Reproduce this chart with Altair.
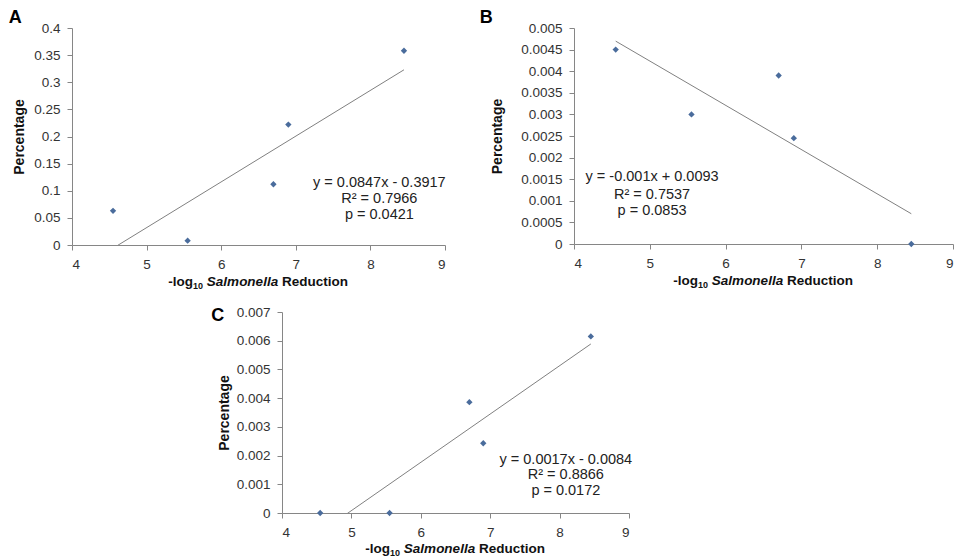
import altair as alt
import pandas as pd

# ---- data ----
x_vals = [4.55, 5.55, 6.70, 6.90, 8.45]
y_a = [0.063, 0.008, 0.112, 0.222, 0.358]
y_b = [0.0045, 0.0030, 0.0039, 0.00245, 0.0]
y_c = [0.0, 0.0, 0.00386, 0.00243, 0.00615]

x_ticks = [4, 5, 6, 7, 8, 9]
y_ticks_a = [0, 0.05, 0.1, 0.15, 0.2, 0.25, 0.3, 0.35, 0.4]
y_ticks_b = [0, 0.0005, 0.001, 0.0015, 0.002, 0.0025, 0.003, 0.0035, 0.004, 0.0045, 0.005]
y_ticks_c = [0, 0.001, 0.002, 0.003, 0.004, 0.005, 0.006, 0.007]

eq_a = ["y = 0.0847x - 0.3917", "R\u00b2 = 0.7966", "p = 0.0421"]
eq_b = ["y = -0.001x + 0.0093", "R\u00b2 = 0.7537", "p = 0.0853"]
eq_c = ["y = 0.0017x - 0.0084", "R\u00b2 = 0.8866", "p = 0.0172"]

# annotation anchors (data units)
eq_a_x = [8.12, 8.12, 8.12]
eq_a_y = [0.1143, 0.0848, 0.0553]
eq_b_x = [5.03, 5.03, 5.03]
eq_b_y = [0.00154, 0.00114, 0.00077]
eq_c_x = [8.09, 8.09, 8.09]
eq_c_y = [0.00186, 0.00132, 0.00078]

FONT = "Liberation Sans"
AXIS_GRAY = "#868686"
POINT_COLOR = "#4a6c9c"
LINE_COLOR = "#808080"


def panel(letter, ys, yticks, ymax, eq, eqx, eqy, width, height,
          title_pad, letter_dx, letter_dy, title_offset, xt_off):
    df = pd.DataFrame({"x": x_vals, "y": ys})
    xscale = alt.Scale(domain=[4, 9], nice=False)
    yscale = alt.Scale(domain=[0, ymax], nice=False)
    xaxis = alt.Axis(values=x_ticks, format="d", grid=False, title=None,
                     domainColor=AXIS_GRAY, tickColor=AXIS_GRAY, tickSize=5,
                     labelPadding=7, labelFont=FONT, labelFontSize=13.5,
                     labelColor="#333333", labelOverlap=False)
    yaxis = alt.Axis(values=yticks, format="~g", grid=False, title="Percentage",
                     domainColor=AXIS_GRAY, tickColor=AXIS_GRAY, tickSize=5,
                     labelPadding=7, labelFont=FONT, labelFontSize=13.5,
                     labelColor="#333333", labelOverlap=False,
                     titleFont=FONT, titleFontSize=14, titleFontWeight="bold",
                     titleColor="#111111", titlePadding=title_pad)
    X = alt.X("x:Q", scale=xscale, axis=xaxis)
    Y = alt.Y("y:Q", scale=yscale, axis=yaxis)
    base = alt.Chart(df)
    pts = base.mark_point(shape="diamond", filled=True, size=40, opacity=1,
                          color=POINT_COLOR).encode(x=X, y=Y)
    reg = base.transform_regression("x", "y", method="linear").mark_line(
        color=LINE_COLOR, strokeWidth=1, clip=True).encode(x=X, y=Y)
    edf = pd.DataFrame({"x": eqx, "y": eqy, "t": eq})
    eqt = alt.Chart(edf).mark_text(font=FONT, fontSize=14.5, color="#222222",
                                   align="center", baseline="middle").encode(
        x=X, y=Y, text="t:N")
    # x-axis title built from pieces (subscript + italic genus name)
    c = width / 2.0
    yb = height + xt_off
    one = pd.DataFrame({"k": [0]})
    t1 = alt.Chart(one).mark_text(font=FONT, fontSize=13.5, fontWeight="bold",
                                  align="right", baseline="alphabetic", color="#111111").encode(
        x=alt.value(c - 65.5), y=alt.value(yb), text=alt.value("-log"))
    t2 = alt.Chart(one).mark_text(font=FONT, fontSize=9, fontWeight="bold",
                                  align="right", baseline="alphabetic", color="#111111").encode(
        x=alt.value(c - 55.5), y=alt.value(yb + 3), text=alt.value("10"))
    t3 = alt.Chart(one).mark_text(font=FONT, fontSize=13.5, fontWeight="bold",
                                  fontStyle="italic", align="center",
                                  baseline="alphabetic", color="#111111").encode(
        x=alt.value(c - 16), y=alt.value(yb), text=alt.value("Salmonella"))
    t4 = alt.Chart(one).mark_text(font=FONT, fontSize=13.5, fontWeight="bold",
                                  align="left", baseline="alphabetic", color="#111111").encode(
        x=alt.value(c + 23.5), y=alt.value(yb), text=alt.value("Reduction"))
    return alt.layer(reg, pts, eqt, t1, t2, t3, t4).properties(
        width=width, height=height,
        title=alt.TitleParams(letter, anchor="start", frame="bounds", font=FONT,
                              fontSize=18, fontWeight="bold", color="#000000",
                              offset=title_offset, dx=letter_dx, dy=letter_dy),
    )


pa = panel("A", y_a, y_ticks_a, 0.4, eq_a, eq_a_x, eq_a_y, 373, 217, 7, -4, 0, -6, 41)
pb = panel("B", y_b, y_ticks_b, 0.005, eq_b, eq_b_x, eq_b_y, 379, 216, 16, -11, 0, -6, 41)
pc = panel("C", y_c, y_ticks_c, 0.007, eq_c, eq_c_x, eq_c_y, 347, 201, 5, -6, 20, 0, 40)

spacer = alt.Chart(pd.DataFrame({"k": [0]})).mark_point(opacity=0).encode(
    x=alt.value(0), y=alt.value(0)).properties(width=139, height=20)

top = alt.hconcat(pa, pb, spacing=33)
bottom = alt.hconcat(spacer, pc, spacing=0)
chart = alt.vconcat(top, bottom, spacing=14).properties(
    padding={"left": 0, "top": 1, "right": 0, "bottom": 0},
    background="white").configure_view(strokeWidth=0, stroke="transparent")

chart.save("out.html", embed_options={"renderer": "svg", "actions": False})
